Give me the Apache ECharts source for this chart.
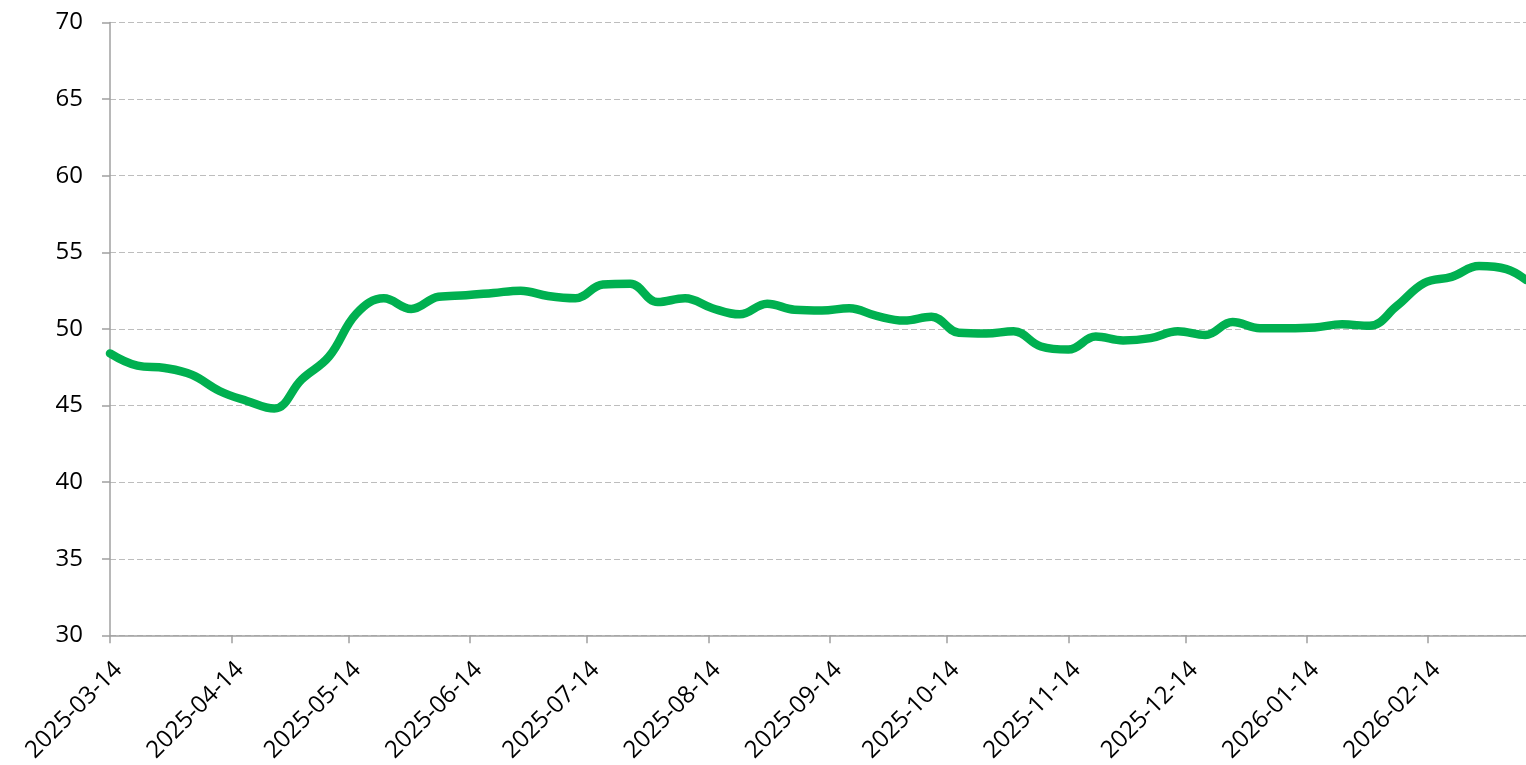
<!DOCTYPE html>
<html>
<head>
<meta charset="utf-8">
<style>html,body{margin:0;padding:0;background:#fff}#c{width:1526px;height:765px}</style>
<script src="https://cdn.jsdelivr.net/npm/echarts@6/dist/echarts.min.js"></script>
</head>
<body>
<div id="c"></div>
<script>
const dates = ['2025-03-14','2025-03-21','2025-03-28','2025-04-04','2025-04-11','2025-04-18','2025-04-25','2025-05-02','2025-05-09','2025-05-16','2025-05-23','2025-05-30','2025-06-06','2025-06-13','2025-06-20','2025-06-27','2025-07-04','2025-07-11','2025-07-18','2025-07-25','2025-08-01','2025-08-08','2025-08-15','2025-08-22','2025-08-29','2025-09-05','2025-09-12','2025-09-19','2025-09-26','2025-10-03','2025-10-10','2025-10-17','2025-10-24','2025-10-31','2025-11-07','2025-11-14','2025-11-21','2025-11-28','2025-12-05','2025-12-12','2025-12-19','2025-12-26','2026-01-02','2026-01-09','2026-01-16','2026-01-23','2026-01-30','2026-02-06','2026-02-13','2026-02-20','2026-02-27','2026-03-06','2026-03-11'];
const values = [48.4,47.6,47.45,47.0,45.95,45.3,44.8,46.7,48.2,51.0,52.0,51.3,52.1,52.2,52.35,52.5,52.15,52.0,52.9,52.95,51.75,52.0,51.35,50.95,51.65,51.25,51.2,51.35,50.85,50.55,50.8,49.75,49.7,49.85,48.85,48.65,49.5,49.25,49.4,49.85,49.6,50.45,50.05,50.05,50.1,50.3,50.2,51.5,53.0,53.4,54.1,53.9,53.2];
const tickDates = ['2025-03-14','2025-04-14','2025-05-14','2025-06-14','2025-07-14','2025-08-14','2025-09-14','2025-10-14','2025-11-14','2025-12-14','2026-01-14','2026-02-14'];
const xStart = '2025-03-14', xEnd = '2026-03-11';

const DAY = 86400000;
function utc(s){const p=s.split('-').map(Number);return Date.UTC(p[0],p[1]-1,p[2]);}
function dayIdx(s){return Math.round((utc(s)-utc(xStart))/DAY);}
function fmt(v){const d=new Date(utc(xStart)+Math.round(v)*DAY);const m=d.getUTCMonth()+1,dd=d.getUTCDate();return d.getUTCFullYear()+'-'+(m<10?'0':'')+m+'-'+(dd<10?'0':'')+dd;}

const chart = echarts.init(document.getElementById('c'));
const FONT = '"Open Sans", sans-serif';
const tickIdx = tickDates.map(dayIdx);
chart.setOption({
  animation:false,
  backgroundColor:'#fff',
  grid:{left:110,right:0,top:22.5,bottom:128.5,containLabel:false},
  xAxis:{
    type:'value', min:0, max:dayIdx(xEnd),
    axisLine:{lineStyle:{color:'#a0a0a0',width:1.5}},
    axisTick:{show:true,length:8,lineStyle:{color:'#a0a0a0',width:1.5},customValues:tickIdx},
    axisLabel:{customValues:tickIdx,rotate:45,formatter:fmt,color:'#000',fontSize:24,fontFamily:FONT,margin:22,align:'right',verticalAlign:'top',showMinLabel:true,showMaxLabel:true},
    splitLine:{show:false}
  },
  yAxis:{
    type:'value', min:30, max:70, interval:5,
    axisLine:{show:true,lineStyle:{color:'#a0a0a0',width:1.5}},
    axisTick:{show:true,length:8,lineStyle:{color:'#a0a0a0',width:1.5}},
    axisLabel:{color:'#000',fontSize:24,fontFamily:FONT,margin:27},
    splitLine:{show:true,lineStyle:{color:'#bdbdbd',type:[6,3],width:1.2}}
  },
  series:[{
    type:'line', smooth:0.4, showSymbol:false,
    data:dates.map((d,i)=>[dayIdx(d),values[i]]),
    lineStyle:{color:'#00b050',width:8.5,cap:'round',join:'round'},
    itemStyle:{color:'#00b050'}
  }]
});
</script>
</body>
</html>
